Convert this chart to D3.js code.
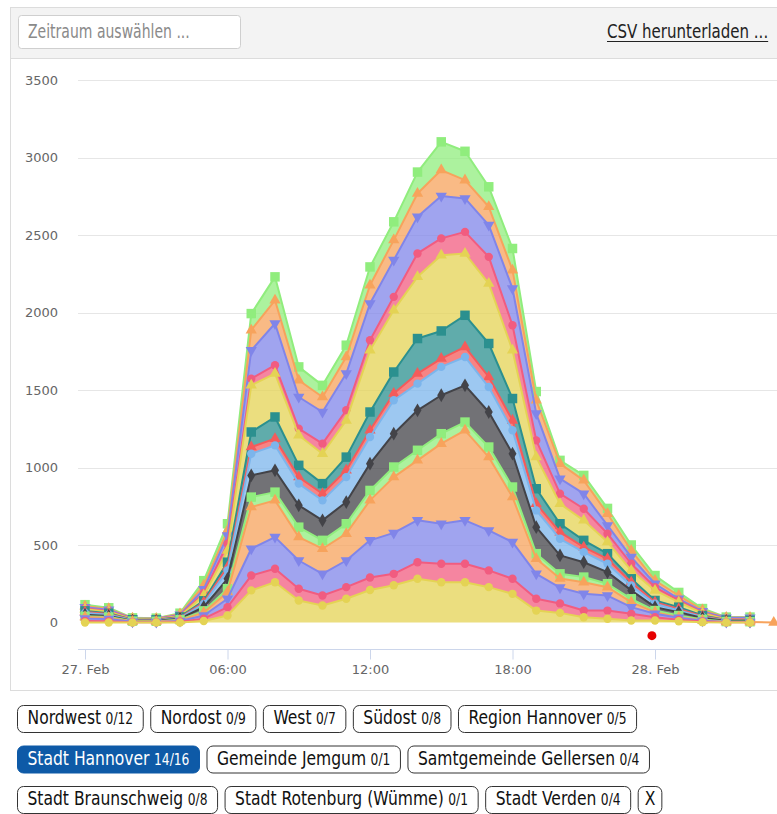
<!DOCTYPE html>
<html>
<head>
<meta charset="utf-8">
<script src="https://cdn.jsdelivr.net/npm/d3@7"></script>
<style>
  body { margin: 0; background: #fff; }
  svg { display: block; }
  .ui { font-family: "Liberation Sans Narrow", "DejaVu Sans Condensed", "Roboto Condensed", Roboto, sans-serif; }
  .axis text { font-family: "DejaVu Sans", sans-serif; font-size: 13px; fill: #666; }
</style>
</head>
<body>
<div id="chart"></div>
<script>
// hourly samples, 27. Feb 00:00 .. 28. Feb 05:00
const hours = d3.range(0, 30);
const yTicks = [0, 500, 1000, 1500, 2000, 2500, 3000, 3500];
const xTickHours = [0, 6, 12, 18, 24];
const monthShort = ["Jan", "Feb", "Mär", "Apr", "Mai", "Jun", "Jul", "Aug", "Sep", "Okt", "Nov", "Dez"];

// stacked series, bottom to top
const s01 = [0, 0, 0, 0, 0, 10, 45, 207, 260, 142, 110, 153, 210, 240, 282, 260, 260, 228, 185, 77, 62, 34, 24, 13, 13, 8, 2, 0, 0, null];
const s02 = [10, 8, 2, 2, 5, 15, 54, 96, 87, 76, 64, 75, 80, 74, 107, 119, 119, 108, 97, 76, 61, 43, 53, 43, 21, 9, 4, 1, 1, null];
const s03 = [15, 14, 3, 2, 5, 20, 54, 173, 204, 182, 140, 172, 240, 264, 271, 258, 280, 258, 237, 161, 102, 108, 97, 43, 22, 13, 6, 2, 2, null];
const s04 = [10, 8, 2, 2, 4, 20, 43, 269, 237, 151, 162, 173, 258, 360, 386, 517, 581, 473, 290, 97, 59, 75, 54, 32, 11, 4, 3, 1, 1, 0];
const s05 = [5, 5, 2, 2, 4, 10, 22, 64, 53, 64, 54, 64, 64, 65, 65, 64, 53, 65, 65, 33, 30, 33, 22, 22, 10, 11, 5, 2, 1, null];
const s06 = [10, 7, 3, 3, 7, 25, 64, 140, 141, 141, 129, 140, 173, 215, 258, 248, 237, 226, 215, 171, 119, 96, 75, 54, 22, 22, 10, 4, 3, null];
const s07 = [12, 8, 2, 2, 4, 20, 54, 140, 161, 140, 129, 161, 172, 216, 172, 183, 183, 161, 151, 108, 107, 65, 54, 32, 22, 10, 6, 2, 2, null];
const s08 = [6, 5, 2, 2, 3, 10, 21, 43, 43, 42, 43, 44, 43, 43, 65, 54, 65, 65, 64, 43, 43, 32, 32, 21, 10, 11, 4, 2, 2, null];
const s09 = [7, 5, 2, 2, 4, 10, 32, 97, 140, 76, 65, 85, 118, 139, 226, 178, 204, 216, 141, 97, 54, 44, 33, 22, 11, 11, 5, 2, 2, null];
const s10 = [10, 10, 4, 3, 6, 35, 76, 301, 280, 194, 193, 237, 398, 399, 398, 489, 399, 387, 311, 204, 129, 129, 75, 54, 65, 32, 15, 4, 4, null];
const s11 = [5, 5, 2, 2, 4, 15, 43, 43, 54, 43, 65, 65, 65, 86, 151, 108, 139, 172, 162, 108, 65, 75, 54, 43, 21, 11, 5, 2, 2, null];
const s12 = [8, 7, 2, 2, 4, 25, 54, 183, 269, 204, 204, 237, 237, 237, 236, 273, 216, 205, 237, 173, 97, 97, 53, 43, 22, 11, 7, 8, 10, null];
const s13 = [7, 6, 2, 2, 5, 25, 32, 130, 150, 108, 97, 107, 118, 129, 151, 168, 118, 118, 118, 86, 97, 86, 76, 43, 21, 21, 8, 3, 3, null];
const s14 = [10, 7, 2, 2, 5, 30, 43, 107, 151, 86, 75, 76, 118, 118, 138, 182, 186, 129, 140, 56, 21, 32, 34, 35, 32, 20, 10, 2, 2, null];
const seriesValues = [s01, s02, s03, s04, s05, s06, s07, s08, s09, s10, s11, s12, s13, s14];

const seriesColors = ["#e4d354", "#f15c80", "#8085e9", "#f7a35c", "#90ed7d", "#434348", "#7cb5ec",
  "#f45b5b", "#2b908f", "#e4d354", "#f15c80", "#8085e9", "#f7a35c", "#90ed7d"];
const seriesSymbols = ["circle", "circle", "triangleDown", "triangle", "square", "diamond", "circle",
  "triangle", "square", "triangle", "circle", "triangleDown", "triangle", "square"];

// red "now" marker below the plot
const nowHour = 23.87;
const nowValue = -85;

// filter buttons
const chipNames = ["Nordwest", "Nordost", "West", "Südost", "Region Hannover", "Stadt Hannover",
  "Gemeinde Jemgum", "Samtgemeinde Gellersen", "Stadt Braunschweig", "Stadt Rotenburg (Wümme)", "Stadt Verden", "X"];
const chipCounts = ["0/12", "0/9", "0/7", "0/8", "0/5", "14/16", "0/1", "0/4", "0/8", "0/1", "0/4", ""];
const activeChip = "Stadt Hannover";

const W = 777, H = 814;
const startDay = Date.UTC(2024, 1, 27);
const toDate = h => new Date(startDay + h * 3600e3);

const svg = d3.select("#chart").append("svg").attr("width", W).attr("height", H);

// panel + header
svg.append("rect").attr("x", 10.5).attr("y", 7.5).attr("width", 800).attr("height", 683)
  .attr("fill", "#fff").attr("stroke", "#dcdcdc");
svg.append("rect").attr("x", 10.5).attr("y", 7.5).attr("width", 800).attr("height", 51)
  .attr("fill", "#f3f3f3").attr("stroke", "#dcdcdc");

// narrow text: squeeze horizontally, the page font is a condensed one
const narrowText = (parent, px, py, sx, size, color, str) => {
  const g = parent.append("g").attr("transform", `translate(${px},${py}) scale(${sx},1)`);
  const t = g.append("text").attr("font-size", size).attr("fill", color).text(str);
  return t.node().getComputedTextLength() * sx;
};

const header = svg.append("g").attr("class", "ui");
header.append("rect").attr("x", 18.5).attr("y", 15.5).attr("width", 222).attr("height", 33).attr("rx", 3)
  .attr("fill", "#fff").attr("stroke", "#cfcfcf");
narrowText(header, 28, 38, 0.82, 19, "#8a8a8a", "Zeitraum auswählen ...");
const csvW = narrowText(header, 607, 38, 0.88, 19, "#222", "CSV herunterladen ...");
header.append("line").attr("x1", 607).attr("x2", 607 + csvW).attr("y1", 41.5).attr("y2", 41.5)
  .attr("stroke", "#222").attr("stroke-width", 1);

// scales
const x = d3.scaleUtc().domain([toDate(0), toDate(24)]).range([85, 655]);
const y = d3.scaleLinear().domain([0, 3500]).range([622.5, 80]);
const plotLeft = 78, axisY = 649;

const chart = svg.append("g");

// gridlines
chart.append("g").selectAll("line").data(yTicks.filter(v => v > 0)).join("line")
  .attr("x1", plotLeft).attr("x2", W).attr("y1", d => Math.round(y(d)) + 0.5).attr("y2", d => Math.round(y(d)) + 0.5)
  .attr("stroke", "#e6e6e6");

// y axis labels
const yAxis = d3.axisLeft(y).tickValues(yTicks).tickFormat(d3.format("d")).tickSize(0).tickPadding(20);
chart.append("g").attr("class", "axis").attr("transform", `translate(${plotLeft},0)`).call(yAxis)
  .call(g => g.select(".domain").remove());

// x axis
const fmt = d => d.getUTCHours() === 0
  ? `${d.getUTCDate()}. ${monthShort[d.getUTCMonth()]}` : d3.utcFormat("%H:%M")(d);
const xAxis = d3.axisBottom(x).tickValues(xTickHours.map(toDate)).tickFormat(fmt).tickSize(10).tickSizeOuter(0).tickPadding(5);
chart.append("g").attr("class", "axis").attr("transform", `translate(0,${axisY + 0.5})`).call(xAxis)
  .call(g => g.select(".domain").attr("d", `M${plotLeft},0H${W}`).attr("stroke", "#ccd6eb"))
  .call(g => g.selectAll(".tick line").attr("stroke", "#ccd6eb"));

// stacked data
const table = hours.map((h, i) => {
  const row = { t: toDate(h) };
  seriesValues.forEach((vals, k) => { row[k] = vals[i]; });
  return row;
});
const stacked = d3.stack().keys(d3.range(seriesValues.length)).value((d, k) => d[k] ?? 0)(table);

svg.append("clipPath").attr("id", "plot").append("rect")
  .attr("x", plotLeft).attr("y", 60).attr("width", W - plotLeft).attr("height", axisY - 60);
const plot = chart.append("g").attr("clip-path", "url(#plot)");

const areaFor = k => d3.area()
  .defined((d, i) => seriesValues[k][i] != null)
  .x(d => x(d.data.t)).y0(d => y(d[0])).y1(d => y(d[1]));
const lineFor = k => d3.line()
  .defined((d, i) => seriesValues[k][i] != null)
  .x(d => x(d.data.t)).y(d => y(d[1]));

stacked.forEach((layer, k) => {
  plot.append("path").datum(layer).attr("d", areaFor(k))
    .attr("fill", seriesColors[k]).attr("fill-opacity", 0.75);
});

const symbolOf = name => {
  if (name === "square") return d3.symbol(d3.symbolSquare, 90)();
  if (name === "diamond") return d3.symbol(d3.symbolDiamond, 55)();
  if (name === "triangle" || name === "triangleDown") return d3.symbol(d3.symbolTriangle, 55)();
  return d3.symbol(d3.symbolCircle, 55)();
};

// top of the stack drawn first, so lower series' lines and markers sit above
stacked.slice().reverse().forEach(layer => {
  const k = layer.key;
  plot.append("path").datum(layer).attr("d", lineFor(k))
    .attr("fill", "none").attr("stroke", seriesColors[k]).attr("stroke-width", 2)
    .attr("stroke-linejoin", "round");
  const pts = layer.filter((d, i) => seriesValues[k][i] != null);
  plot.append("g").selectAll("path").data(pts).join("path")
    .attr("d", symbolOf(seriesSymbols[k]))
    .attr("transform", d => `translate(${x(d.data.t)},${y(d[1])})` + (seriesSymbols[k] === "triangleDown" ? " rotate(180)" : ""))
    .attr("fill", seriesColors[k]);
});

// now marker
chart.append("circle").attr("cx", x(toDate(nowHour))).attr("cy", y(nowValue)).attr("r", 4.5).attr("fill", "#e60000");

// chips
const chips = svg.append("g").attr("class", "ui");
let cx = 17, rowTop = 705;
const gap = 7.5, rowStep = 40.5, chipH = 27, padX = 10, sx = 0.91;
chipNames.forEach((name, i) => {
  const active = name === activeChip;
  const g = chips.append("g");
  const rect = g.append("rect").attr("height", chipH).attr("rx", 6)
    .attr("fill", active ? "#0e5aa7" : "#fff").attr("stroke", active ? "#0e5aa7" : "#333");
  const tg = g.append("g");
  const txt = tg.append("text").attr("y", 19.5).attr("font-size", 19).attr("fill", active ? "#fff" : "#111");
  txt.append("tspan").text(name);
  if (chipCounts[i]) txt.append("tspan").attr("font-size", 15).attr("dx", 5).text(chipCounts[i]);
  const tw = (txt.node().getComputedTextLength() + (chipCounts[i] ? 5 : 0)) * sx;
  const w = tw + 2 * padX - (chipCounts[i] ? 0 : 7);
  if (cx + w > 770) { cx = 17; rowTop += rowStep; }
  g.attr("transform", `translate(${cx},${rowTop})`);
  rect.attr("x", 0.5).attr("y", 0.5).attr("width", w);
  tg.attr("transform", `translate(${(w - tw) / 2 + 0.5},0) scale(${sx},1)`);
  cx += w + gap;
});
</script>
</body>
</html>
